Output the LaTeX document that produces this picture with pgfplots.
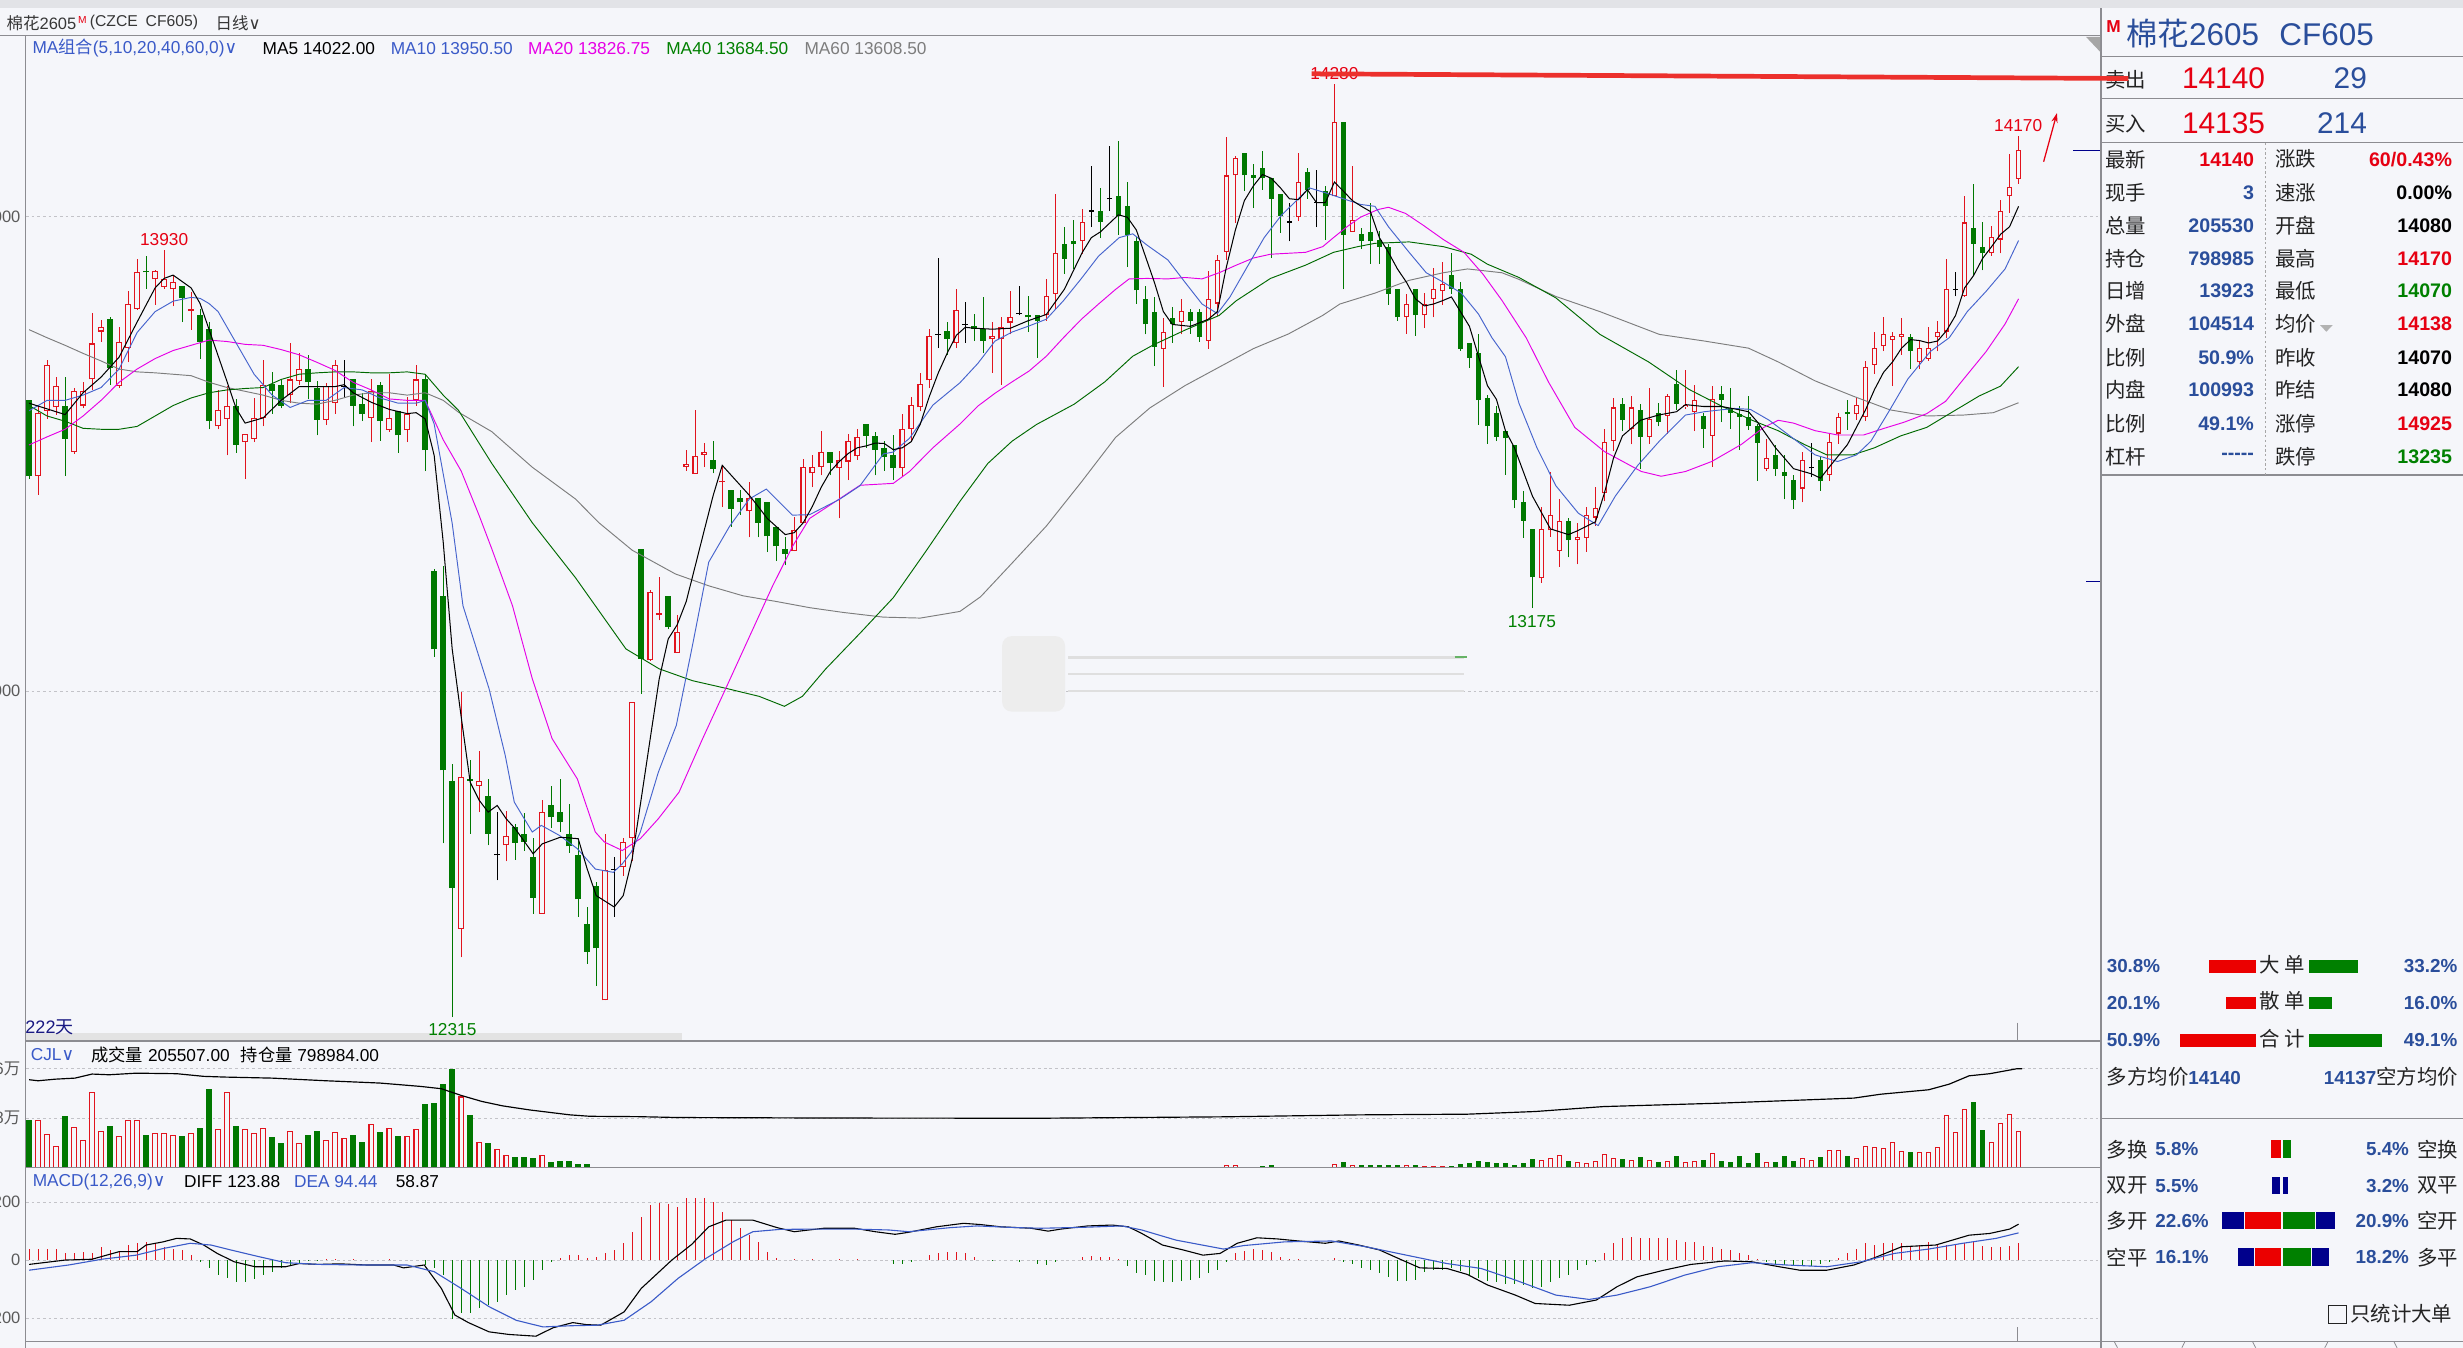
\documentclass[border=0pt]{standalone}
\usepackage{fontspec}
\setmainfont{Liberation Sans}
\newfontfamily\cjk{Noto Sans CJK SC}
\newfontfamily\dejavu{DejaVu Sans}
\usepackage{pgfplots}
\pgfplotsset{compat=1.18}
\usepackage{pgfplotstable}
\usetikzlibrary{arrows.meta}

\definecolor{bgc}{RGB}{245,246,250}
\definecolor{topc}{RGB}{226,227,231}
\definecolor{cred}{RGB}{225,20,30}
\definecolor{cgrn}{RGB}{0,120,0}
\definecolor{tred}{RGB}{230,0,18}
\definecolor{tgrn}{RGB}{0,128,0}
\definecolor{tblue}{RGB}{42,78,155}
\definecolor{mablue}{RGB}{58,90,200}
\definecolor{ma10c}{RGB}{70,100,205}
\definecolor{mamag}{RGB}{230,0,230}
\definecolor{magrn}{RGB}{0,105,0}
\definecolor{magray}{RGB}{125,125,125}
\definecolor{linec}{RGB}{140,140,145}
\definecolor{gridc}{RGB}{195,195,200}
\definecolor{tickc}{RGB}{90,90,90}
\definecolor{navy}{RGB}{0,0,140}
\definecolor{dkblue}{RGB}{25,25,130}
\definecolor{hdr}{RGB}{55,55,55}
\definecolor{lbl}{RGB}{35,35,35}
\definecolor{barred}{RGB}{235,0,0}

\newcommand\fs[1]{\fontsize{#1}{#1}\selectfont}
\newcommand\chev{{\dejavu ∨}}

% a vertical bar drawn as an error bar: (line width, colour); a zero length draws nothing
\pgfplotsset{
  eb/.style 2 args={draw=none, mark=none, forget plot, error bars/.cd, y dir=plus, y explicit, error mark=none,
    error bar style={solid, line width=#1, draw=#2}},
  kbase/.style={anchor=south west, x=5.731pt, xmin=-0.35, xmax=230.15,
    axis line style={draw=none}, xtick=\empty, tick style={draw=none},
    ymajorgrids=true, grid style={draw=gridc, dash pattern=on 1.8pt off 1.8pt, line width=0.55pt},
    yticklabel style={font=\fs{10.5}, text=tickc}},
}

% i open high low close volume(10k lots) t (1 up, -1 down, 0 doji)
\pgfplotstableread{
i o h l c v t
0 13613 13613 13447 13453 27.1 -1
1 13453 13602 13414 13587 27.1 1
2 13591 13698 13574 13687 19.1 1
3 13598 13662 13583 13643 12.3 1
4 13602 13662 13453 13532 29.3 -1
5 13504 13640 13500 13632 22.9 1
6 13602 13651 13596 13632 15.7 1
7 13657 13797 13635 13733 42.8 1
8 13758 13782 13737 13767 20.8 1
9 13784 13789 13646 13682 23.7 -1
10 13643 13767 13640 13737 18.0 1
11 13723 13844 13693 13817 27.1 1
12 13806 13910 13804 13883 27.1 1
13 13886 13918 13848 13883 18.5 -1
14 13868 13888 13815 13885 19.5 1
15 13852 13930 13848 13868 19.5 1
16 13847 13877 13811 13863 18.5 1
17 13854 13854 13778 13828 18.0 -1
18 13802 13841 13762 13805 19.5 1
19 13792 13806 13701 13736 22.3 -1
20 13764 13778 13552 13569 44.7 -1
21 13558 13635 13552 13593 21.8 1
22 13574 13643 13497 13602 42.8 1
23 13602 13616 13503 13519 23.7 -1
24 13525 13543 13447 13543 21.8 1
25 13532 13618 13525 13576 19.5 1
26 13576 13698 13558 13646 22.3 1
27 13648 13673 13585 13632 17.2 -1
28 13646 13657 13596 13602 13.8 -1
29 13624 13734 13607 13657 21.0 1
30 13654 13712 13646 13679 13.8 1
31 13679 13709 13616 13651 18.5 -1
32 13638 13654 13539 13572 21.0 -1
33 13572 13649 13561 13643 15.7 1
34 13607 13698 13585 13687 20.1 1
35 13643 13698 13618 13643 16.6 0
36 13657 13657 13558 13602 18.5 -1
37 13605 13629 13569 13585 14.4 -1
38 13576 13657 13525 13632 24.6 1
39 13646 13651 13528 13569 20.1 -1
40 13550 13668 13547 13576 22.3 1
41 13591 13591 13503 13539 18.0 -1
42 13550 13621 13525 13585 18.0 1
43 13613 13687 13602 13657 21.8 1
44 13657 13668 13464 13508 36.1 -1
45 13254 13257 13073 13088 36.5 -1
46 13200 13263 12679 12833 47.3 -1
47 12810 12847 12313 12585 56.0 -1
48 12499 12998 12439 12819 40.3 1
49 12815 12854 12699 12811 29.9 -1
50 12800 12874 12745 12810 14.4 1
51 12779 12815 12675 12699 13.8 -1
52 12655 12745 12601 12655 10.4 0
53 12675 12748 12641 12694 7.2 1
54 12713 12720 12645 12680 5.9 -1
55 12699 12743 12664 12683 5.9 -1
56 12650 12690 12531 12564 5.3 -1
57 12531 12770 12531 12745 7.2 1
58 12759 12801 12711 12734 3.4 -1
59 12745 12815 12703 12724 3.8 -1
60 12699 12762 12659 12673 3.8 -1
61 12655 12685 12524 12561 2.1 -1
62 12510 12545 12425 12450 2.1 -1
63 12590 12597 12378 12458 0 -1
64 12348 12699 12348 12624 0.4 1
65 12624 12650 12524 12624 0 0
66 12629 12690 12611 12683 0 1
67 12690 12978 12641 12978 0 1
68 13300 13300 12994 13068 0 -1
69 13065 13214 13064 13210 0 1
70 13160 13240 13149 13164 0 1
71 13200 13200 13130 13135 0 -1
72 13081 13160 13081 13124 0 1
73 13473 13509 13465 13478 0 1
74 13458 13592 13458 13495 0 1
75 13498 13523 13472 13505 0 1
76 13488 13527 13459 13468 0 -1
77 13440 13476 13388 13444 0 1
78 13424 13424 13347 13384 0 -1
79 13408 13424 13372 13398 0 -1
80 13379 13440 13324 13407 0 1
81 13407 13407 13324 13354 0 -1
82 13399 13399 13293 13326 0 -1
83 13345 13345 13274 13305 0 -1
84 13299 13324 13265 13289 0 -1
85 13295 13368 13295 13339 0 1
86 13354 13490 13354 13473 0 1
87 13459 13498 13430 13473 0 1
88 13473 13548 13455 13505 0 1
89 13505 13505 13455 13480 0 -1
90 13470 13507 13364 13488 0 1
91 13484 13542 13445 13527 0 1
92 13495 13553 13488 13536 0 1
93 13563 13563 13513 13538 0 -1
94 13538 13547 13455 13509 0 -1
95 13513 13528 13465 13493 0 -1
96 13498 13540 13445 13470 0 -1
97 13470 13584 13453 13553 0 1
98 13553 13621 13528 13603 0 1
99 13598 13671 13590 13648 0 1
100 13655 13763 13640 13748 0 1
101 13752 13913 13723 13752 0 0
102 13759 13778 13709 13742 0 -1
103 13734 13848 13723 13803 0 1
104 13773 13820 13734 13773 0 0
105 13769 13796 13738 13763 0 -1
106 13763 13831 13713 13738 0 -1
107 13742 13778 13671 13749 0 1
108 13742 13788 13646 13767 0 1
109 13777 13843 13752 13788 0 1
110 13796 13855 13792 13796 0 0
111 13792 13833 13757 13788 0 -1
112 13792 13792 13703 13781 0 -1
113 13792 13869 13781 13833 0 1
114 13838 14048 13806 13923 0 1
115 13942 13978 13880 13911 0 -1
116 13948 13994 13890 13942 0 -1
117 13948 14017 13921 13989 0 1
118 14012 14108 13978 14012 0 0
119 14012 14061 13955 13989 0 -1
120 14038 14150 14012 14038 0 0
121 14043 14160 13962 14001 0.4 -1
122 14022 14073 13894 13962 0 -1
123 13948 13958 13817 13845 0 -1
124 13827 13853 13752 13773 0 -1
125 13799 13831 13685 13726 0.4 -1
126 13722 13786 13642 13757 0 1
127 13786 13809 13734 13773 0 -1
128 13778 13827 13752 13801 0 1
129 13799 13806 13753 13781 0 -1
130 13799 13806 13736 13747 0 -1
131 13738 13886 13722 13827 0.4 1
132 13817 13919 13791 13908 0.4 1
133 13926 14168 13909 14087 1.5 1
134 14087 14128 13987 14124 1.5 1
135 14134 14134 14054 14087 0.6 -1
136 14087 14111 14018 14082 0.6 -1
137 14103 14139 14057 14081 1.1 -1
138 14082 14082 13913 14038 1.5 -1
139 14048 14048 13966 14001 0.6 -1
140 13989 14030 13948 13989 0.6 0
141 13999 14134 13991 14073 0.6 1
142 14095 14103 14038 14056 0.6 -1
143 14030 14098 13978 14030 0.6 0
144 14054 14064 13952 14022 0.6 -1
145 14043 14280 14043 14199 1.9 1
146 14199 14199 13847 13962 3.2 -1
147 13968 14108 13968 13994 1.5 1
148 13964 13976 13933 13948 1.5 -1
149 13968 14030 13901 13948 1.5 -1
150 13950 13970 13901 13937 1.5 -1
151 13937 13942 13814 13838 1.5 -1
152 13847 13847 13781 13788 1.5 -1
153 13788 13838 13753 13817 1.5 1
154 13847 13847 13749 13792 1.5 -1
155 13792 13839 13765 13817 0.9 1
156 13827 13892 13788 13847 1.1 1
157 13843 13905 13814 13859 0.9 1
158 13878 13923 13838 13847 0.9 -1
159 13847 13863 13718 13722 2.3 -1
160 13734 13734 13682 13703 2.6 -1
161 13713 13753 13562 13613 3.8 -1
162 13617 13624 13521 13558 3.4 -1
163 13587 13601 13527 13536 2.5 -1
164 13548 13548 13456 13533 2.8 -1
165 13518 13518 13386 13402 1.5 -1
166 13398 13422 13323 13359 2.8 -1
167 13342 13342 13175 13240 4.7 -1
168 13238 13388 13228 13342 4.2 1
169 13339 13463 13325 13371 5.7 1
170 13296 13405 13262 13359 7.2 1
171 13359 13366 13282 13318 3.8 -1
172 13318 13354 13267 13325 3.2 1
173 13323 13388 13294 13371 2.6 1
174 13366 13431 13349 13386 3.8 1
175 13417 13553 13400 13526 7.8 1
176 13527 13618 13506 13598 5.3 1
177 13606 13618 13548 13572 4.7 -1
178 13553 13623 13520 13598 4.4 1
179 13593 13606 13468 13536 5.9 -1
180 13536 13638 13521 13574 4.4 1
181 13587 13607 13558 13567 3.4 -1
182 13580 13627 13543 13622 3.8 1
183 13647 13678 13593 13606 6.6 -1
184 13598 13678 13594 13603 3.4 1
185 13589 13645 13548 13613 4.0 1
186 13580 13587 13513 13553 4.4 -1
187 13538 13643 13473 13616 8.3 1
188 13627 13643 13567 13614 3.8 -1
189 13596 13640 13553 13587 3.4 -1
190 13584 13601 13509 13578 6.6 -1
191 13578 13622 13551 13558 2.8 -1
192 13558 13564 13444 13524 8.3 -1
193 13468 13531 13463 13491 3.4 1
194 13497 13519 13453 13468 3.4 -1
195 13463 13497 13404 13453 6.6 -1
196 13446 13456 13384 13402 4.0 -1
197 13427 13504 13398 13487 5.7 1
198 13471 13524 13451 13471 4.4 0
199 13487 13495 13422 13442 6.1 -1
200 13456 13545 13444 13526 9.8 1
201 13543 13587 13521 13578 9.8 1
202 13589 13613 13551 13584 6.6 -1
203 13584 13618 13572 13603 5.3 1
204 13578 13696 13569 13683 12.3 1
205 13688 13758 13669 13723 11.5 1
206 13727 13789 13717 13752 11.0 1
207 13741 13758 13643 13749 14.4 1
208 13747 13787 13709 13752 9.6 1
209 13747 13752 13680 13717 9.1 -1
210 13693 13739 13680 13723 9.1 1
211 13701 13768 13696 13723 9.1 1
212 13747 13781 13716 13758 11.5 1
213 13758 13912 13744 13847 29.9 1
214 13847 13884 13832 13847 20.1 0
215 13832 14043 13831 13988 33.3 1
216 13977 14068 13876 13943 37.1 -1
217 13937 13988 13887 13923 21.4 -1
218 13923 13981 13918 13957 14.4 1
219 13952 14035 13923 14012 25.2 1
220 14043 14133 14008 14063 30.3 1
221 14080 14170 14070 14140 20.6 1
}\candles

\begin{document}
\begin{tikzpicture}
\path[use as bounding box] (0,0) rectangle (1568pt,858pt);
\fill[bgc] (0,0) rectangle (1568pt,858pt);

% ---------- price panel
\begin{axis}[kbase, at={(16.5pt,195.3pt)}, y=0.302pt, ymin=12262.6, ymax=14382.5,
  ytick={13000,14000}, yticklabels={13000,14000}]
% rising candles: hollow red
\addplot[eb={0.65pt}{cred}] table[x=i, y=l, y error expr={(\thisrow{t}>0.5)*(\thisrow{h}-\thisrow{l})}] {\candles};
\addplot[eb={3.6pt}{cred}] table[x=i, y=o, y error expr={(\thisrow{t}>0.5)*max(\thisrow{c}-\thisrow{o},3.3)}] {\candles};
\addplot[eb={2.2pt}{bgc}] table[x=i, y expr=\thisrow{o}+2.3, y error expr={(\thisrow{t}>0.5)*max(\thisrow{c}-\thisrow{o}-4.6,0)}] {\candles};
% falling candles: solid green
\addplot[eb={0.65pt}{cgrn}] table[x=i, y=l, y error expr={(\thisrow{t}<-0.5)*(\thisrow{h}-\thisrow{l})}] {\candles};
\addplot[eb={3.6pt}{cgrn}] table[x=i, y=c, y error expr={(\thisrow{t}<-0.5)*max(\thisrow{o}-\thisrow{c},3.3)}] {\candles};
% doji: black cross
\addplot[eb={0.65pt}{black}] table[x=i, y=l, y error expr={(abs(\thisrow{t})<0.5)*(\thisrow{h}-\thisrow{l})}] {\candles};
\addplot[eb={3.6pt}{black}] table[x=i, y expr=\thisrow{o}-1.2, y error expr={(abs(\thisrow{t})<0.5)*2.4}] {\candles};

% MA60
\addplot[magray, line width=0.6pt, mark=none] coordinates {(0,13762)(2,13745)(4,13729)(6,13712)(8,13696)(10,13679)(12,13673)(14,13671)(16,13668)(18,13665)(20,13651)(22,13640)(24,13632)(26,13624)(28,13613)(30,13607)(32,13605)(34,13613)(36,13624)(38,13629)(40,13629)(42,13624)(44,13629)(46,13613)(47.7,13588)(51.4,13547)(55.9,13472)(60.7,13405)(63.3,13355)(67,13297)(71.8,13247)(75.5,13222)(79.3,13201)(83,13189)(86.7,13176)(90.4,13166)(94.9,13156)(99,13154)(103.4,13168)(105.7,13199)(109.2,13270)(113,13348)(116.9,13441)(120.7,13535)(124.5,13597)(128.4,13644)(132.2,13683)(136,13722)(139.9,13753)(143.7,13792)(145.6,13816)(149.5,13839)(153.3,13866)(157.1,13882)(159.8,13890)(163.6,13882)(165.5,13868)(169.6,13832)(174.5,13800)(181.1,13752)(186.1,13738)(191,13723)(194.3,13694)(198.4,13654)(202.6,13622)(206.7,13593)(210.8,13580)(214.9,13582)(218.2,13587)(221,13608)};
% MA40
\addplot[magrn, line width=0.6pt, mark=none] coordinates {(0,13602)(2,13580)(4,13569)(6,13554)(8,13552)(10,13552)(12,13558)(14,13580)(16,13602)(18,13618)(20,13629)(22,13635)(24,13638)(26,13640)(28,13657)(30,13668)(32,13671)(34,13673)(36,13673)(38,13671)(40,13671)(42,13673)(44,13668)(46,13624)(47.7,13592)(51.4,13480)(55.9,13355)(60.7,13239)(66.3,13089)(70,13047)(73.7,13022)(77.4,13006)(81.1,12989)(83.9,12968)(85.9,12989)(88.5,13047)(92.3,13122)(96,13197)(99.7,13297)(103.4,13400)(106.5,13480)(109.2,13527)(111.9,13562)(116.1,13605)(119.5,13652)(122.6,13706)(124.9,13730)(128.4,13761)(132.2,13792)(134.1,13823)(137.9,13870)(141.8,13898)(144.9,13925)(147.6,13937)(149.5,13944)(153.3,13947)(157.1,13937)(160.2,13921)(162,13900)(165.5,13872)(169.6,13829)(174.5,13752)(179.9,13694)(184.4,13636)(188.1,13600)(191.4,13571)(194.3,13549)(197.2,13520)(199.7,13498)(202.6,13498)(205,13513)(207.9,13538)(210.8,13556)(213.7,13589)(216.6,13622)(219,13643)(221,13684)};
% MA20
\addplot[mamag, line width=0.6pt, mark=none] coordinates {(0,13519)(2,13536)(4,13552)(6,13580)(8,13613)(10,13651)(12,13679)(14,13701)(16,13718)(18,13729)(20,13740)(22,13737)(24,13731)(26,13729)(28,13720)(30,13709)(32,13693)(34,13676)(36,13651)(38,13635)(40,13616)(42,13613)(44,13613)(46,13530)(48,13464)(50,13370)(51.4,13300)(53.7,13180)(55.9,13026)(58.1,12900)(60.9,12815)(62.9,12703)(63.9,12682)(65.9,12664)(67.9,12689)(69.9,12731)(72.2,12787)(74.8,12899)(77.4,13006)(80,13114)(82.6,13222)(84.8,13305)(86.7,13364)(90,13405)(92.3,13434)(96,13438)(97.8,13463)(100.4,13513)(103.4,13563)(105.4,13601)(107.3,13628)(109.2,13652)(111.1,13675)(113,13706)(114.9,13745)(116.9,13784)(118.8,13816)(120.7,13847)(122.2,13869)(124.2,13870)(126.5,13869)(128.4,13872)(130.3,13869)(132.2,13882)(134.1,13898)(136,13913)(137.9,13921)(141.8,13925)(143.7,13937)(144.9,13956)(146.4,13979)(147.9,13999)(149.8,14015)(151,14020)(152.9,14007)(154.8,13983)(157.1,13952)(159.4,13925)(161.5,13879)(163.6,13824)(166.3,13745)(168.8,13651)(171.7,13556)(175,13505)(179.1,13463)(181.3,13453)(184,13463)(186.9,13484)(190.2,13520)(192.7,13556)(194.3,13571)(196,13565)(198.4,13549)(200.9,13540)(203.8,13540)(205.9,13553)(208.3,13567)(210.8,13585)(212.9,13611)(214.9,13658)(217.4,13716)(219.5,13774)(221,13827)};
% MA10
\addplot[ma10c, line width=0.6pt, mark=none] coordinates {(0,13591)(2,13613)(4,13613)(6,13624)(8,13640)(10,13679)(12,13756)(14,13800)(16,13822)(18,13830)(19,13828)(20,13817)(21,13800)(23,13734)(25,13668)(27,13624)(29,13598)(31,13613)(33,13613)(35,13640)(37,13635)(39,13618)(41,13607)(43,13607)(44,13613)(45,13563)(47,13354)(48.2,13180)(51.1,13005)(52.9,12864)(53.9,12766)(55.9,12703)(56.9,12717)(58.9,12696)(60.9,12668)(62.9,12625)(64.9,12618)(65.9,12636)(66.9,12661)(67.9,12703)(69.9,12829)(71.9,12928)(73.7,13097)(75.5,13272)(77.8,13347)(80,13405)(81.9,13426)(84.8,13371)(86.7,13372)(90,13404)(92.3,13433)(94.9,13500)(96,13504)(97.8,13533)(100.4,13603)(103.4,13650)(105.4,13691)(107.3,13738)(109.2,13757)(111.1,13770)(113,13784)(114.9,13823)(116.9,13870)(118.8,13917)(121.1,13956)(122.6,13964)(124.2,13940)(126.5,13909)(128.4,13862)(130.3,13816)(132,13796)(133.4,13831)(135.3,13894)(137.2,13956)(139.1,14003)(141,14038)(142.2,14061)(144.1,14050)(146,14038)(147.9,14026)(149.5,14022)(151,13979)(153.3,13925)(155.2,13882)(157.1,13862)(159.1,13839)(161,13795)(162.5,13745)(164,13705)(165.5,13607)(167.5,13513)(169.6,13433)(172.1,13375)(174.3,13349)(176.2,13411)(178.7,13476)(181.1,13527)(184,13582)(186.1,13589)(189.4,13596)(191.2,13594)(193.3,13571)(195.6,13538)(198.4,13498)(200.9,13484)(203,13498)(204.6,13527)(206.7,13593)(208.7,13658)(211.2,13716)(213.3,13745)(215.3,13800)(217.4,13843)(219.5,13890)(221,13950)};
% MA5
\addplot[black, line width=0.65pt, mark=none] coordinates {(0,13607)(4,13583)(6,13629)(8,13662)(10,13704)(12,13778)(14,13850)(15,13870)(16,13877)(18,13850)(19,13817)(20,13762)(21,13707)(22,13652)(23,13596)(24,13565)(26,13576)(28,13613)(30,13642)(32,13642)(34,13642)(35,13646)(36,13629)(38,13609)(40,13594)(42,13585)(43,13587)(44,13574)(45,13497)(46,13315)(47,13089)(48,12946)(49,12808)(50,12770)(51,12745)(52,12759)(53,12731)(54,12710)(56,12657)(57,12678)(59,12692)(61,12689)(62,12625)(63,12569)(65,12545)(66,12569)(67,12647)(68,12773)(69,12900)(70,13026)(71,13110)(72,13140)(73,13189)(74,13264)(75,13339)(76,13413)(77,13476)(78,13455)(79,13434)(80,13413)(81,13389)(82,13364)(83,13347)(84,13330)(85,13334)(86,13355)(87,13389)(88,13430)(89,13463)(90,13484)(91,13501)(92,13513)(93,13517)(94,13523)(95,13522)(96,13509)(97,13513)(98,13526)(99,13563)(100,13621)(101,13671)(102,13713)(103,13750)(104,13767)(105,13765)(107,13763)(109,13765)(111,13781)(113,13794)(115,13847)(117,13925)(118,13956)(119,13968)(121,14004)(122,13999)(123,13972)(124,13917)(125,13862)(126,13800)(127,13773)(129,13769)(131,13784)(132,13800)(133,13894)(134,13972)(135,14034)(136,14065)(137,14089)(138,14081)(139,14061)(140,14038)(141,14036)(142,14057)(143,14030)(144,14030)(145,14073)(146,14054)(147,14034)(148,14022)(149,14011)(150,13956)(151,13925)(152,13890)(153,13862)(154,13827)(155,13812)(156,13816)(157,13823)(158,13831)(159,13800)(160,13769)(161,13706)(162,13644)(163,13615)(164,13549)(165,13513)(166,13462)(167,13411)(169,13342)(171,13330)(172,13338)(174,13357)(175,13418)(176,13491)(177,13538)(179,13571)(181,13582)(183,13589)(184,13604)(186,13600)(188,13600)(190,13593)(191,13589)(192,13567)(194,13513)(196,13469)(198,13458)(199,13449)(200,13473)(202,13520)(204,13593)(205,13636)(206,13672)(207,13694)(208,13723)(209,13741)(210,13739)(211,13734)(212,13738)(213,13760)(214,13792)(215,13850)(216,13876)(217,13912)(218,13937)(219,13963)(220,13979)(221,14022)};
\end{axis}

% ---------- volume panel (units: 10k lots)
\begin{axis}[kbase, at={(16.5pt,114.6pt)}, y=1.125pt, ymin=0, ymax=71.7,
  ytick={28,56}, yticklabels={28{\cjk 万},56{\cjk 万}}]
\addplot[eb={3.5pt}{cred}] table[x=i, y expr=0, y error expr={(\thisrow{t}>-0.5)*\thisrow{v}}] {\candles};
\addplot[eb={2.1pt}{bgc}] table[x=i, y expr=0, y error expr={(\thisrow{t}>-0.5)*max(\thisrow{v}-0.6,0)}] {\candles};
\addplot[eb={3.5pt}{cgrn}] table[x=i, y expr=0, y error expr={(\thisrow{t}<-0.5)*\thisrow{v}}] {\candles};
% open interest (drawn on the panel scale)
\addplot[black, line width=0.75pt, mark=none] coordinates {(0,49.8)(1,49.2)(2.9,50.1)(5.1,50.7)(7,53.0)(8.9,52.6)(11.9,53.5)(16.4,53.2)(19.4,51.7)(21.7,51.3)(27,50.7)(33,49.2)(39,47.9)(43.5,46.0)(45.8,44.7)(48,40.9)(50.3,37.5)(52.6,35.0)(55.6,32.7)(60.1,29.9)(62.3,29.1)(67.6,28.9)(72.1,28.4)(90,28.1)(112.4,28.0)(132.7,28.8)(147.7,29.9)(159.8,30.3)(167.3,31.8)(174.9,34.6)(187.6,36.5)(202.7,39.4)(205.7,41.6)(211,44.1)(213.3,47.3)(215.5,52.0)(217.8,53.2)(220.8,56.0)(221.4,56.0)};
\end{axis}

% ---------- MACD panel
\begin{axis}[kbase, at={(16.5pt,3.9pt)}, y=0.18425pt, ymin=-281.7, ymax=319.1,
  ytick={-200,0,200}, yticklabels={-200,0,200}]
\addplot[ycomb, draw=cred, line width=0.6pt, mark=none] coordinates {(0,40)(1,38)(2,40)(3,40)(4,23)(5,23)(6,27)(7,23)(8,46)(9,35)(10,29)(11,52)(12,58)(13,61)(14,54)(15,46)(16,40)(17,35)(18,17)(33,3)(34,3)(36,2)(40,2)(59,8)(60,17)(61,17)(62,6)(63,12)(64,23)(65,35)(66,58)(67,98)(68,150)(69,190)(70,196)(71,193)(72,184)(73,213)(74,216)(75,213)(76,202)(77,167)(78,138)(79,112)(80,86)(81,61)(82,29)(83,8)(85,3)(87,3)(90,3)(92,3)(100,17)(101,23)(102,27)(103,29)(104,23)(105,12)(117,12)(118,15)(119,12)(120,12)(121,3)(134,23)(135,31)(136,38)(137,35)(138,29)(139,12)(140,3)(141,3)(145,8)(175,23)(176,58)(177,77)(178,81)(179,77)(180,75)(181,75)(182,75)(183,69)(184,63)(185,61)(186,50)(187,44)(188,38)(189,35)(190,23)(191,17)(192,3)(201,8)(202,23)(203,40)(204,58)(205,52)(206,58)(207,58)(208,58)(209,46)(210,52)(211,61)(212,54)(213,52)(214,54)(215,58)(216,61)(217,50)(218,46)(219,46)(220,50)(221,59)};
\addplot[ycomb, draw=cgrn, line width=0.6pt, mark=none] coordinates {(19,-6)(20,-29)(21,-52)(22,-63)(23,-75)(24,-75)(25,-66)(26,-50)(27,-40)(28,-29)(29,-17)(30,-12)(31,-3)(32,-3)(44,-17)(45,-29)(46,-52)(47,-202)(48,-184)(49,-184)(50,-167)(51,-156)(52,-144)(53,-121)(54,-104)(55,-92)(56,-69)(57,-35)(58,-6)(96,-12)(97,-12)(98,-8)(107,-3)(110,-6)(112,-15)(113,-17)(114,-6)(122,-20)(123,-43)(124,-52)(125,-73)(126,-77)(127,-77)(128,-73)(129,-69)(130,-61)(131,-46)(132,-35)(133,-8)(146,-6)(147,-15)(148,-29)(149,-35)(150,-46)(151,-58)(152,-73)(153,-73)(154,-69)(155,-40)(156,-35)(157,-35)(158,-29)(159,-38)(160,-52)(161,-63)(162,-73)(163,-75)(164,-81)(165,-81)(166,-86)(167,-98)(168,-92)(169,-75)(170,-63)(171,-52)(172,-35)(173,-17)(174,-5)(193,-6)(194,-12)(195,-17)(196,-20)(197,-20)(198,-20)(199,-15)(200,-6)};
% DIFF
\addplot[black, line width=0.7pt, mark=none] coordinates {(0,-15)(4,0)(7,3)(10,29)(12,29)(13,52)(14.9,63)(16.4,75)(17.9,73)(19.4,52)(20.9,23)(22.8,-6)(25.1,-23)(28.5,-23)(30,-12)(32.2,-15)(34.5,-13)(37.5,-17)(40.5,-17)(41.6,-27)(43.9,-17)(45.8,-98)(47.3,-190)(48.8,-216)(51.1,-248)(53.3,-257)(56.3,-263)(58.2,-234)(60.4,-216)(61.9,-223)(63.5,-225)(66.1,-179)(68,-98)(71.4,0)(73.6,54)(75.5,115)(77.4,138)(80.4,138)(83.1,112)(85,98)(88.3,110)(91.7,110)(94,98)(96.2,89)(97.7,96)(100.8,115)(103.8,127)(105.6,123)(107.9,115)(111.3,110)(113.2,100)(114.6,107)(117.6,118)(120.3,121)(122.1,115)(123.6,92)(125.9,52)(128.2,35)(130.4,17)(132.3,23)(134.2,58)(136.4,77)(138.7,73)(141,66)(144,58)(145.5,66)(147.7,52)(150,35)(152.3,3)(154.5,-27)(157.5,-29)(159.8,-50)(162,-86)(165.1,-121)(167.3,-150)(171.1,-156)(174.1,-138)(176.4,-92)(178.6,-58)(181.6,-35)(184.6,-15)(188.4,-3)(191.4,-6)(194.4,-23)(196.7,-35)(199.7,-35)(202.7,-17)(205,8)(208,46)(211.8,52)(215.5,86)(217.8,92)(220,107)(221,124)};
% DEA
\addplot[mablue, line width=0.7pt, mark=none] coordinates {(0,-35)(4.4,-17)(8.1,3)(11.9,17)(14.9,40)(17.9,58)(20.2,52)(22.4,35)(25.5,12)(28.5,-9)(32.2,-15)(36.7,-17)(42,-17)(45,-40)(48,-98)(51.1,-161)(54.1,-208)(57.1,-231)(60.1,-227)(63.1,-225)(66.1,-208)(69.1,-144)(72.1,-63)(75.2,6)(78.2,63)(80.4,98)(83.4,106)(87.2,107)(91.7,107)(95.5,104)(97.7,98)(102.3,112)(105.3,118)(109.8,112)(112.4,110)(116.9,113)(121.4,118)(123.6,104)(127.4,69)(132.7,38)(134.9,50)(139.5,63)(144.7,66)(148.5,46)(153,17)(157.5,-12)(161.3,-29)(165.1,-69)(169.6,-121)(173.3,-136)(176.4,-121)(180.1,-92)(183.9,-52)(187.6,-23)(191.4,-9)(195.2,-17)(199.7,-23)(203.5,-6)(207.2,23)(211,38)(214.8,58)(218.5,75)(221,94)};
\end{axis}

% ---------- frame, labels and the quote panel (x right, y down, in px of the reference)
\begin{scope}[shift={(0pt,858pt)}, x=1pt, y=-1pt]
\fill[topc] (0,0) rectangle (1568,5.3);
\fill[gray!22] (16.5,657.6) rectangle (434,662.2);
\draw[linec, line width=0.7pt] (0,22.9) -- (1337.5,22.9);
\draw[linec, line width=0.7pt] (16.5,22.9) -- (16.5,858);
\draw[linec, line width=0.7pt] (1337.5,5.3) -- (1337.5,858);
\draw[linec, line width=0.7pt] (16.5,662.7) -- (1337.5,662.7);
\draw[linec, line width=0.7pt] (16.5,743.4) -- (1337.5,743.4);
\draw[linec, line width=0.7pt] (16.5,854.1) -- (1568,854.1);
\draw[linec, line width=0.5pt] (1284.5,651) -- (1284.5,662.7) (1284.5,845) -- (1284.5,854.1);
\fill[gray!70] (1328,23.5) -- (1337,23.5) -- (1337,33) -- cycle;
\draw[navy, line width=0.8pt] (1320,96) -- (1337,96) (1328,370) -- (1337,370);

% faint blurred watermark
\fill[gray!14, rounded corners=6pt] (638,405) rectangle (678,453);
\draw[gray!25, line width=1.6pt] (680,418.5) -- (932,418.5) (680,429) -- (932,429) (680,440) -- (932,440);
\draw[tgrn!60, line width=1.2pt] (926,418.5) -- (934,418.5);

% header
\node[anchor=west, inner sep=0, font=\fs{10.5}, text=hdr] at (4,14.5) {{\cjk 棉花}2605};
\node[anchor=west, inner sep=0, font=\fs{6.5}, text=tred] at (49.5,12.5) {M};
\node[anchor=west, inner sep=0, font=\fs{10}, text=hdr] at (57,14.5) {(CZCE\hspace{5pt}CF605)};
\node[anchor=west, inner sep=0, font=\fs{10.5}, text=hdr] at (137,14.5) {{\cjk 日线}\chev};

% MA legend
\node[anchor=west, inner sep=0, font=\fs{11}, text=mablue] at (20.5,30.8) {MA{\cjk 组合}(5,10,20,40,60,0)\chev};
\node[anchor=west, inner sep=0, font=\fs{11}, text=black] at (167,30.8) {MA5 14022.00};
\node[anchor=west, inner sep=0, font=\fs{11}, text=mablue] at (248.6,30.8) {MA10 13950.50};
\node[anchor=west, inner sep=0, font=\fs{11}, text=mamag] at (336,30.8) {MA20 13826.75};
\node[anchor=west, inner sep=0, font=\fs{11}, text=tgrn] at (424,30.8) {MA40 13684.50};
\node[anchor=west, inner sep=0, font=\fs{11}, text=magray] at (512,30.8) {MA60 13608.50};

% extreme labels
\node[inner sep=0, font=\fs{11}, text=tred] at (104.5,152.7) {13930};
\node[inner sep=0, font=\fs{11}, text=tred] at (849.5,47.1) {14280};
\node[inner sep=0, font=\fs{11}, text=tred] at (1284.8,80) {14170};
\node[inner sep=0, font=\fs{11}, text=tgrn] at (975.2,395.8) {13175};
\node[inner sep=0, font=\fs{11}, text=tgrn] at (288,655.7) {12315};
\node[anchor=west, inner sep=0, font=\fs{11.5}, text=dkblue] at (16,654) {222{\cjk 天}};

% sub panel titles
\node[anchor=west, inner sep=0, font=\fs{11}, text=mablue] at (19.4,671.3) {CJL\chev};
\node[anchor=west, inner sep=0, font=\fs{11}, text=black] at (58,671.3) {{\cjk 成交量} 205507.00\hspace{7pt}{\cjk 持仓量} 798984.00};
\node[anchor=west, inner sep=0, font=\fs{11}, text=mablue] at (20.7,752.3) {MACD(12,26,9)\chev};
\node[anchor=west, inner sep=0, font=\fs{11}, text=black] at (117,752.3) {DIFF 123.88};
\node[anchor=west, inner sep=0, font=\fs{11}, text=mablue] at (187,752.3) {DEA 94.44};
\node[anchor=west, inner sep=0, font=\fs{11}, text=black] at (251.8,752.3) {58.87};

% quote panel
\node[anchor=west, inner sep=0, font=\fs{11}\bfseries, text=tred] at (1340.7,17) {M};
\node[anchor=west, inner sep=0, font=\fs{20}, text=tblue] at (1353.5,21.5) {{\cjk 棉花}2605\hspace{13pt}CF605};
\draw[linec, line width=0.7pt] (1337.5,36) -- (1568,36) (1337.5,62.6) -- (1568,62.6) (1337.5,90.8) -- (1568,90.8) (1337.5,302.4) -- (1568,302.4);
\node[anchor=west, inner sep=0, font=\fs{13}, text=lbl] at (1340,50.5) {\cjk 卖出};
\node[anchor=west, inner sep=0, font=\fs{19}, text=tred] at (1388.9,50) {14140};
\node[anchor=east, inner sep=0, font=\fs{19}, text=tblue] at (1507,50) {29};
\node[anchor=west, inner sep=0, font=\fs{13}, text=lbl] at (1340,78.8) {\cjk 买入};
\node[anchor=west, inner sep=0, font=\fs{19}, text=tred] at (1388.9,78.3) {14135};
\node[anchor=east, inner sep=0, font=\fs{19}, text=tblue] at (1507,78.3) {214};
\draw[gray!70, dash pattern=on 1.5pt off 1.5pt, line width=0.5pt] (1442.3,91) -- (1442.3,302.4);

\foreach \y/\la/\va/\ca/\lb/\vb/\cb in {
  101.4/最新/14140/tred/涨跌/60\slash0.43\%/tred,
  122.7/现手/3/tblue/速涨/0.00\%/black,
  143.7/总量/205530/tblue/开盘/14080/black,
  164.5/持仓/798985/tblue/最高/14170/tred,
  185.3/日增/13923/tblue/最低/14070/tgrn,
  206.3/外盘/104514/tblue/均价/14138/tred,
  227.5/比例/50.9\%/tblue/昨收/14070/black,
  248.3/内盘/100993/tblue/昨结/14080/black,
  269.5/比例/49.1\%/tblue/涨停/14925/tred,
  290.7/杠杆/-{}-{}-{}-{}-/tblue/跌停/13235/tgrn}{
  \node[anchor=west, inner sep=0, font=\fs{13}, text=lbl] at (1340,\y) {\cjk \la};
  \node[anchor=east, inner sep=0, font=\fs{12.5}\bfseries, text=\ca] at (1435.1,\y) {\va};
  \node[anchor=west, inner sep=0, font=\fs{13}, text=lbl] at (1448.3,\y) {\cjk \lb};
  \node[anchor=east, inner sep=0, font=\fs{12.5}\bfseries, text=\cb] at (1561.2,\y) {\vb};
}
\fill[gray!60] (1477,207) -- (1485,207) -- (1481,211.2) -- cycle;

% order-flow block
\foreach \y/\lp/\la/\rp/\rl/\rr in {615/30.8/大 单/33.2/1406.3/1500.9, 638.4/20.1/散 单/16.0/1417.1/1484.4, 662.1/50.9/合 计/49.1/1387.8/1516.2}{
  \node[anchor=west, inner sep=0, font=\fs{12}\bfseries, text=tblue] at (1341,\y) {\lp\%};
  \node[anchor=east, inner sep=0, font=\fs{12}\bfseries, text=tblue] at (1564.6,\y) {\rp\%};
  \node[inner sep=0, font=\fs{13}, text=lbl] at (1453,\y-1) {\cjk \la};
  \fill[barred] (\rl,\y-3.9) rectangle (1436,\y+4.2);
  \fill[tgrn] (1469.9,\y-3.9) rectangle (\rr,\y+4.2);
}
\node[anchor=west, inner sep=0, font=\fs{13}, text=lbl] at (1341,685.5) {{\cjk 多方均价}{\fs{12}\bfseries\color{tblue}14140}};
\node[anchor=east, inner sep=0, font=\fs{13}, text=lbl] at (1565,685.5) {{\fs{12}\bfseries\color{tblue}14137}{\cjk 空方均价}};
\draw[linec, line width=0.7pt] (1337.5,712) -- (1568,712);

\foreach \y/\la/\va/\vb/\lb in {731.7/多换/5.8/5.4/空换, 755/双开/5.5/3.2/双平, 777.2/多开/22.6/20.9/空开, 800.5/空平/16.1/18.2/多平}{
  \node[anchor=west, inner sep=0, font=\fs{13}, text=lbl] at (1341,\y) {\cjk \la};
  \node[anchor=west, inner sep=0, font=\fs{12}\bfseries, text=tblue] at (1371.9,\y) {\va\%};
  \node[anchor=east, inner sep=0, font=\fs{12}\bfseries, text=tblue] at (1533.8,\y) {\vb\%};
  \node[anchor=west, inner sep=0, font=\fs{13}, text=lbl] at (1538.5,\y) {\cjk \lb};
}
\fill[barred] (1445.7,725.8) rectangle (1452.1,737.5);
\fill[tgrn] (1453.2,725.8) rectangle (1458.5,737.5);
\fill[navy] (1446.2,749.1) rectangle (1451.5,760.2);
\fill[navy] (1453.2,749.1) rectangle (1456.6,760.2);
\fill[navy] (1414.5,771.4) rectangle (1428.5,782.7);
\fill[barred] (1429.2,771.4) rectangle (1452.1,782.7);
\fill[tgrn] (1453.2,771.4) rectangle (1473.8,782.7);
\fill[navy] (1474.4,771.4) rectangle (1486.5,782.7);
\fill[navy] (1424.7,794.8) rectangle (1434.9,806);
\fill[barred] (1435.6,794.8) rectangle (1452.1,806);
\fill[tgrn] (1453.2,794.8) rectangle (1471.2,806);
\fill[navy] (1471.8,794.8) rectangle (1482.7,806);

\draw[lbl, line width=0.6pt] (1482.5,831) rectangle (1493.7,842.4);
\node[anchor=west, inner sep=0, font=\fs{13}, text=lbl] at (1496,836.5) {\cjk 只统计大单};
\draw[linec, line width=0.5pt] (1346,854.1) -- (1348,858) (1389,858) -- (1391,854.1) (1434,854.1) -- (1436,858) (1480,858) -- (1482,854.1) (1524,854.1) -- (1526,858);

% hand-drawn marks
\draw[color={rgb,255:red,236;green,48;blue,44}, line width=3pt] (835,47) -- (1355,50);
\draw[tred, line width=0.8pt, -{Stealth[length=6pt,width=4pt]}] (1301,103) -- (1309.5,72);
\end{scope}
\end{tikzpicture}
\end{document}
